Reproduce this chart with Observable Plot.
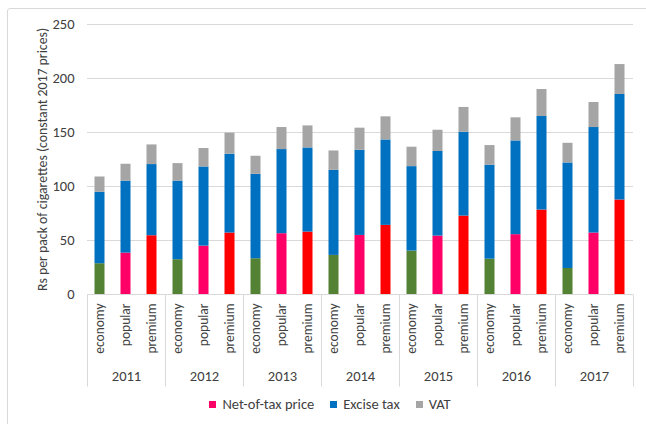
<!DOCTYPE html>
<html><head><meta charset="utf-8">
<script src="https://cdn.jsdelivr.net/npm/d3@7"></script>
<script src="https://cdn.jsdelivr.net/npm/@observablehq/plot@0.6"></script>
<style>
body{margin:0;background:#fff;font-family:Carlito,Lato,sans-serif;}
#wrap{position:relative;width:646px;height:424px;overflow:hidden;}
#border{position:absolute;left:7px;top:8px;width:700px;height:500px;border:1px solid #d9d9d9;border-radius:3px;}
#chart{position:absolute;left:0;top:0;}
#legend{position:absolute;top:395px;left:14px;width:632px;display:flex;justify-content:center;align-items:center;font-size:14.5px;color:#404040;}
#legend .item{display:flex;align-items:center;margin:0 8px;}
#legend .sw{width:7px;height:7px;margin-right:6px;}
</style></head>
<body>
<div id="wrap"><div id="border"></div><div id="chart"></div><div id="legend"></div></div>
<script>
const years = [2011, 2012, 2013, 2014, 2015, 2016, 2017];
const categories = ["economy", "popular", "premium"];
// values per year, in category order economy, popular, premium
const netOfTax  = [28.5,38.3,54.4, 32.2,44.8,56.9, 33.1,56.3,57.8, 36.2,54.7,64.0, 40.2,54.1,72.6, 32.7,55.4,78.2, 24.1,56.9,87.5];
const exciseTax = [66.1,66.7,65.9, 72.8,73.3,73.0, 78.2,77.9,77.9, 78.8,78.9,79.1, 78.2,78.3,77.7, 87.0,86.8,86.6, 97.7,97.7,97.7];
const vat       = [14.2,15.6,18.2, 16.2,17.1,19.5, 16.7,20.4,20.4, 17.9,20.4,21.4, 18.0,19.7,22.9, 18.2,21.4,25.0, 18.2,23.2,27.7];
const yTicks = [0, 50, 100, 150, 200, 250];
const legendLabels = ["Net-of-tax price", "Excise tax", "VAT"];

const compKeys = ["net-economy", "net-popular", "net-premium", "excise", "vat"];
const compColors = ["#548235", "#FF0066", "#FF0000", "#0070C0", "#A5A5A5"];

const rows = [];
years.forEach((yr, i) => categories.forEach((c, j) => {
  const k = i * 3 + j;
  rows.push({year: yr, cat: c, comp: "net-" + c, value: netOfTax[k]});
  rows.push({year: yr, cat: c, comp: "excise", value: exciseTax[k]});
  rows.push({year: yr, cat: c, comp: "vat", value: vat[k]});
}));

const font = "Carlito, Lato, sans-serif";
const plot = Plot.plot({
  width: 646, height: 392,
  marginLeft: 83.5, marginRight: 10.5, marginTop: 24, marginBottom: 98,
  style: {fontFamily: font, fontSize: "13.5px", color: "#404040", background: "transparent"},
  fx: {domain: years, padding: 0, label: null},
  x: {domain: categories, paddingInner: 0.6, paddingOuter: 0.3, label: null},
  y: {domain: [0, 250], label: null},
  color: {domain: compKeys, range: compColors},
  marks: [
    Plot.gridY(yTicks.slice(1), {stroke: "#d9d9d9", strokeOpacity: 1, strokeWidth: 1}),
    Plot.barY(rows, {fx: "year", x: "cat", y: "value", fill: "comp"}),
    Plot.ruleY([0], {stroke: "#d9d9d9"}),
    Plot.axisY(yTicks, {tickSize: 0, tickPadding: 13, label: "Rs per pack of cigarettes (constant 2017 prices)", labelAnchor: "center", labelArrow: "none", labelOffset: 50, fontSize: 14.5}),
    Plot.axisX({tickRotate: -90, tickSize: 0, tickPadding: 9, label: null}),
    Plot.axisFx({anchor: "bottom", tickSize: 0, tickPadding: 76, label: null, fontSize: 14.5, tickFormat: d => String(d)})
  ]
});

// shrink the rotated y-axis title slightly (font-size only)
d3.select(plot).selectAll("[aria-label='y-axis label'] text, [aria-label='y-axis label']").style("font-size", "13.8px");

// group separators of the two-level category axis, from the library's scales
const fx = plot.scale("fx"), ys = plot.scale("y");
const y0 = Math.round(ys.apply(0)) + 0.5;
const edges = years.map(v => fx.apply(v)).concat([fx.apply(years[years.length - 1]) + fx.bandwidth]);
d3.select(plot).append("g").attr("stroke", "#d9d9d9")
  .selectAll("line").data(edges).join("line")
  .attr("x1", d => Math.round(d) + 0.5).attr("x2", d => Math.round(d) + 0.5)
  .attr("y1", y0).attr("y2", y0 + 92);

document.getElementById("chart").appendChild(plot);

const legendColors = ["#FF0066", "#0070C0", "#A5A5A5"];
const lg = d3.select("#legend");
legendLabels.forEach((t, i) => {
  const it = lg.append("div").attr("class", "item");
  it.append("div").attr("class", "sw").style("background", legendColors[i]);
  it.append("span").text(t);
});
</script>
</body></html>
